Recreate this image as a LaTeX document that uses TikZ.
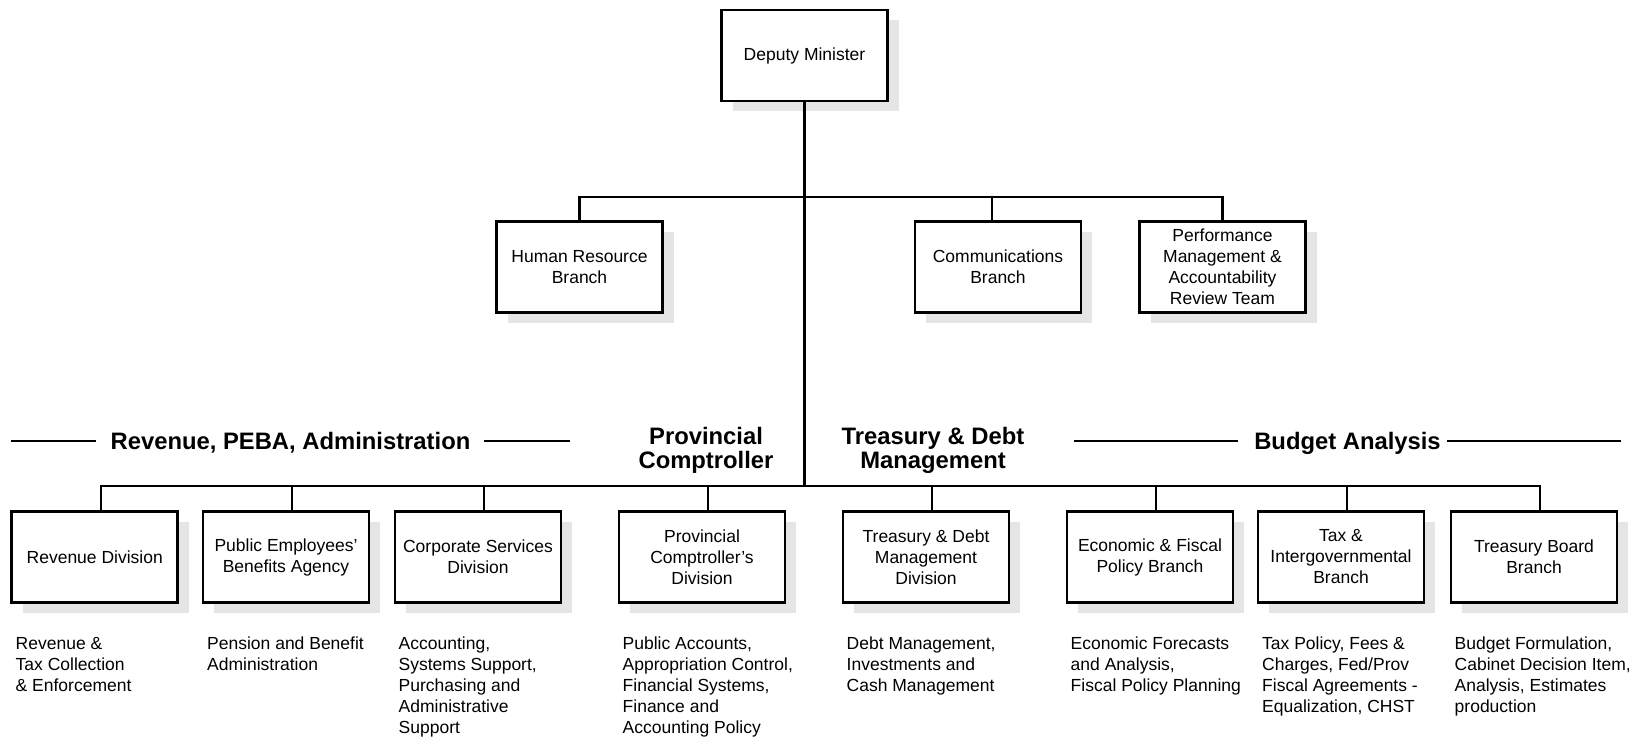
\documentclass[tikz,border=0pt]{standalone}
\usepackage{fontspec}
\setmainfont{Liberation Sans}
\usetikzlibrary{shadows}
\newcommand\bxfont{\fontsize{17.5}{21}\selectfont}
\newcommand\hdfont{\fontsize{23.8}{24}\selectfont\bfseries}
\begin{document}
\begin{tikzpicture}[x=1pt,y=-1pt,
  orgbox/.style={draw, line width=2.8pt, fill=white, minimum width=166pt,
    minimum height=91pt, align=center, inner sep=0pt, font=\bxfont,
    general shadow={fill=gray!20, shadow xshift=11pt, shadow yshift=-10pt}},
  conn/.style={line width=2.4pt},
  desc/.style={anchor=north west, align=left, inner sep=0pt, font=\bxfont},
  hdr/.style={font=\hdfont, align=center, inner sep=0pt},
]
\useasboundingbox (0,0) rectangle (1641,739);

% top level
\node[orgbox] (dm) at (804.5,55.5) {Deputy Minister};
\node[orgbox] (hr) at (579.5,267) {Human Resource\\Branch};
\node[orgbox] (comm) at (998,267) {Communications\\Branch};
\node[orgbox] (perf) at (1222.5,267) {Performance\\Management \&\\Accountability\\Review Team};

% bottom level
\node[orgbox] (b1) at (94.75,557) {Revenue Division};
\node[orgbox] (b2) at (286,557) {Public Employees’\\Benefits Agency};
\node[orgbox] (b3) at (478,557) {Corporate Services\\Division};
\node[orgbox] (b4) at (702,557) {Provincial\\Comptroller’s\\Division};
\node[orgbox] (b5) at (926,557) {Treasury \& Debt\\Management\\Division};
\node[orgbox] (b6) at (1150,557) {Economic \& Fiscal\\Policy Branch};
\node[orgbox] (b7) at (1341,557) {Tax \&\\Intergovernmental\\Branch};
\node[orgbox] (b8) at (1534,557) {Treasury Board\\Branch};

% coordinates of bars
\coordinate (tb) at (0,197);
\coordinate (lb) at (0,486);

% connectors
\draw[conn] (dm.south) -- (dm.south |- lb);
\draw[conn] (hr.north) -- (hr.north |- tb) -- (perf.north |- tb) -- (perf.north);
\draw[conn] ([xshift=-6pt]comm.north) -- ([xshift=-6pt]comm.north |- tb);
\draw[conn] ([xshift=6pt]b1.north) -- ([xshift=6pt]b1.north |- lb) -- ([xshift=6pt]b8.north |- lb) -- ([xshift=6pt]b8.north);
\foreach \b in {b2,b3,b4,b5,b6,b7}
  \draw[conn] ([xshift=6pt]\b.north) -- ([xshift=6pt]\b.north |- lb);

% headers
\node[hdr, anchor=base] (h1) at (290.5,449) {Revenue, PEBA, Administration};
\node[hdr] (h2) at (706,450.5) {Provincial\\Comptroller};
\node[hdr] (h3) at (933,450.5) {Treasury \& Debt\\Management};
\node[hdr, anchor=base] (h4) at (1347.5,449) {Budget Analysis};
\draw[conn] (10.5,441) -- (96,441);
\draw[conn] (484,441) -- (570,441);
\draw[conn] (1074,441) -- (1238,441);
\draw[conn] (1447,441) -- (1621,441);

% descriptions
\node[desc] (d1) at (15.5,637) {Revenue \&\\Tax Collection\\\& Enforcement};
\node[desc] (d2) at (207,637) {Pension and Benefit\\Administration};
\node[desc] (d3) at (398.5,637) {Accounting,\\Systems Support,\\Purchasing and\\Administrative\\Support};
\node[desc] (d4) at (622.5,637) {Public Accounts,\\Appropriation Control,\\Financial Systems,\\Finance and\\Accounting Policy};
\node[desc] (d5) at (846.5,637) {Debt Management,\\Investments and\\Cash Management};
\node[desc] (d6) at (1070.5,637) {Economic Forecasts\\and Analysis,\\Fiscal Policy Planning};
\node[desc] (d7) at (1262,637) {Tax Policy, Fees \&\\Charges, Fed/Prov\\Fiscal Agreements -\\Equalization, CHST};
\node[desc] (d8) at (1454.5,637) {Budget Formulation,\\Cabinet Decision Item,\\Analysis, Estimates\\production};
\end{tikzpicture}
\end{document}
